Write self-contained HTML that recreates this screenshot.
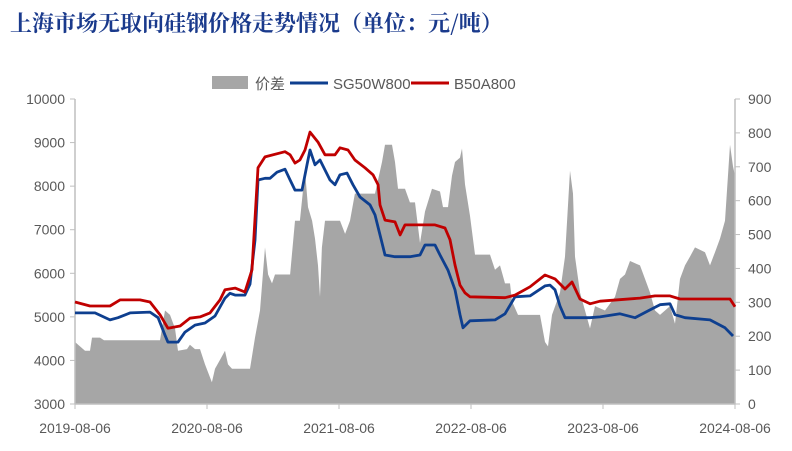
<!DOCTYPE html>
<html><head><meta charset="utf-8"><style>
body{margin:0;background:#fff;width:792px;height:451px;overflow:hidden}
svg{display:block;font-family:"Liberation Sans","Noto Sans CJK SC",sans-serif}
</style></head><body>
<svg id="c" width="792" height="451">
<text x="10" y="31" font-family="'Noto Serif CJK SC',serif" font-weight="bold" font-size="22" fill="#1a3a8c">上海市场无取向硅钢价格走势情况（单位：元/吨）</text>
<g>
<rect x="212" y="76" width="36" height="13" fill="#a6a6a6"/>
<text x="255" y="89" font-size="15" fill="#595959">价差</text>
<line x1="290" y1="83" x2="328" y2="83" stroke="#0e3f8f" stroke-width="3"/>
<text x="333" y="89" font-size="15" fill="#595959">SG50W800</text>
<line x1="411" y1="83" x2="449" y2="83" stroke="#c00000" stroke-width="3"/>
<text x="454" y="89" font-size="15" fill="#595959">B50A800</text>
</g>
</svg>
<script>
// months since 2019-08-06
const spreadT=[0,0.45,0.91,1.36,1.55,2.27,2.64,7.73,8.18,8.64,9.09,9.36,10.18,10.45,10.91,11.36,11.82,12.45,12.73,13.18,13.64,13.91,14.27,15.91,16.36,16.82,17.27,17.55,17.91,18.18,19.55,20.0,20.45,20.91,21.18,21.55,21.82,22.09,22.27,22.45,22.73,24.09,24.55,25.0,25.45,27.27,27.91,28.18,28.82,29.09,29.36,30.0,30.45,30.91,31.36,31.82,32.45,33.18,33.45,33.91,34.27,34.55,35.0,35.18,35.45,35.91,36.36,37.73,38.18,38.64,39.09,39.55,39.73,40.27,42.27,42.73,43.0,43.36,44.09,44.55,45.0,45.27,45.45,45.91,46.36,46.82,47.27,48.18,49.09,49.55,50.0,50.45,51.36,51.82,52.27,52.73,53.18,54.09,54.55,55.0,55.45,55.91,56.36,57.27,57.73,58.18,58.64,59.09,59.55,59.82,60];
const spreadV=[183,170,157,157,196,196,188,188,276,263,223,157,162,175,162,162,117,64,104,130,157,117,104,104,196,276,462,382,356,382,382,541,541,688,581,541,488,409,316,462,541,541,502,541,621,621,714,765,765,714,635,635,595,595,475,568,635,627,581,581,674,714,727,754,648,555,441,441,396,409,356,356,303,263,263,183,170,263,329,435,688,621,435,329,276,223,289,276,316,369,382,422,409,369,329,276,263,289,237,369,409,435,462,448,409,448,488,541,765,701,674];
const sgT=[0,1.82,3.18,3.91,5.0,6.82,7.55,8.18,8.45,9.36,10.0,10.91,11.82,12.73,13.64,14.09,14.55,15.45,15.91,16.36,16.64,17.27,17.73,18.36,19.09,19.55,20.0,20.64,21.09,21.36,21.82,22.27,23.18,23.64,24.09,24.73,25.27,25.91,26.82,27.27,27.73,28.18,29.09,30.45,31.36,31.82,32.73,33.18,33.91,34.55,35.0,35.27,35.91,38.18,39.09,40.0,41.36,42.73,43.18,43.64,44.09,44.55,46.82,47.73,49.55,50.91,52.27,53.18,54.09,54.55,55.45,57.73,59.09,59.82];
const sgV=[5090,5090,4930,4980,5090,5110,4980,4580,4420,4420,4650,4810,4860,5020,5430,5540,5500,5500,5750,6760,8140,8180,8180,8320,8390,8140,7910,7910,8490,8830,8490,8600,8140,8030,8260,8300,8030,7750,7570,7340,6880,6420,6380,6380,6420,6650,6650,6420,6070,5620,5050,4750,4910,4930,5070,5460,5480,5710,5730,5620,5250,4980,4980,5000,5070,4980,5160,5280,5300,5050,4980,4930,4750,4560];
const bT=[0,1.36,3.18,4.09,5.91,6.82,7.73,8.45,9.55,10.45,11.36,12.27,13.18,13.64,14.55,15.45,16.09,16.64,17.27,19.09,19.55,20.0,20.45,20.91,21.36,22.09,22.73,23.64,24.09,24.82,25.45,26.36,27.09,27.55,27.73,28.18,29.09,29.55,30.0,32.73,33.64,34.09,34.55,35.0,35.45,35.91,39.09,40.0,41.36,42.73,43.64,44.55,45.18,45.91,46.82,47.73,51.36,52.73,54.09,55.0,59.55,60];
const bV=[5340,5250,5250,5390,5390,5340,5050,4740,4790,4970,5000,5090,5390,5620,5660,5570,6080,8420,8670,8790,8720,8530,8600,8830,9240,9010,8720,8720,8880,8830,8600,8420,8260,8030,7570,7220,7180,6880,7110,7110,7040,6770,6190,5730,5550,5460,5440,5500,5690,5960,5870,5640,5800,5410,5300,5360,5430,5480,5480,5410,5410,5230];
const leftTicks=[3000,4000,5000,6000,7000,8000,9000,10000];
const rightTicks=[0,100,200,300,400,500,600,700,800,900];
const xLabels=["2019-08-06","2020-08-06","2021-08-06","2022-08-06","2023-08-06","2024-08-06"];

const X0=75,X1=735,Y0=404,Y1=99;
const x=m=>X0+(X1-X0)*m/60;
const yL=v=>Y0-(Y0-Y1)*(v-3000)/7000;
const yR=v=>Y0-(Y0-Y1)*v/900;
const svg=document.getElementById('c');
const NS="http://www.w3.org/2000/svg";
function mk(tag,attrs){const e=document.createElementNS(NS,tag);for(const k in attrs)e.setAttribute(k,attrs[k]);svg.appendChild(e);return e;}

let d="M"+x(spreadT[0])+","+Y0;
spreadT.forEach((t,i)=>{d+=" L"+x(t).toFixed(1)+","+yR(spreadV[i]).toFixed(1);});
d+=" L"+x(spreadT[spreadT.length-1])+","+Y0+" Z";
const area=mk('path',{d:d,fill:'#a6a6a6'});



const la=mk('line',{x1:X0,y1:Y1,x2:X0,y2:Y0,stroke:'#bfbfbf','stroke-width':1.5});


const ra=mk('line',{x1:X1,y1:Y1,x2:X1,y2:Y0,stroke:'#bfbfbf','stroke-width':1.5});


const ba=mk('line',{x1:X0,y1:Y0,x2:X1,y2:Y0,stroke:'#bfbfbf','stroke-width':1.5});



leftTicks.forEach(v=>{
  const tk=mk('line',{x1:X0-5,y1:yL(v),x2:X0,y2:yL(v),stroke:'#bfbfbf'});
  
  
  const t=mk('text',{x:X0-10,y:yL(v)+5,'text-anchor':'end','font-size':14,fill:'#595959'});
  t.textContent=v;
  
  
});
rightTicks.forEach(v=>{
  const tk=mk('line',{x1:X1,y1:yR(v),x2:X1+5,y2:yR(v),stroke:'#bfbfbf'});
  
  
  const t=mk('text',{x:X1+13,y:yR(v)+5,'font-size':14,fill:'#595959'});
  t.textContent=v;
  
  
});
xLabels.forEach((s,i)=>{
  const xx=x(i*12);
  const tk=mk('line',{x1:xx,y1:Y0,x2:xx,y2:Y0+5,stroke:'#bfbfbf'});
  
  
  const t=mk('text',{x:xx,y:433,'text-anchor':'middle','font-size':14,fill:'#595959'});
  t.textContent=s;
  
  
});

function line(T,V){
  return T.map((t,i)=>(i?"L":"M")+x(t).toFixed(1)+","+yL(V[i]).toFixed(1)).join(" ");
}
const sg=mk('path',{d:line(sgT,sgV),fill:'none',stroke:'#0e3f8f','stroke-width':2.8,'stroke-linejoin':'round'});


const b=mk('path',{d:line(bT,bV),fill:'none',stroke:'#c00000','stroke-width':2.8,'stroke-linejoin':'round'});


</script>
</body></html>
